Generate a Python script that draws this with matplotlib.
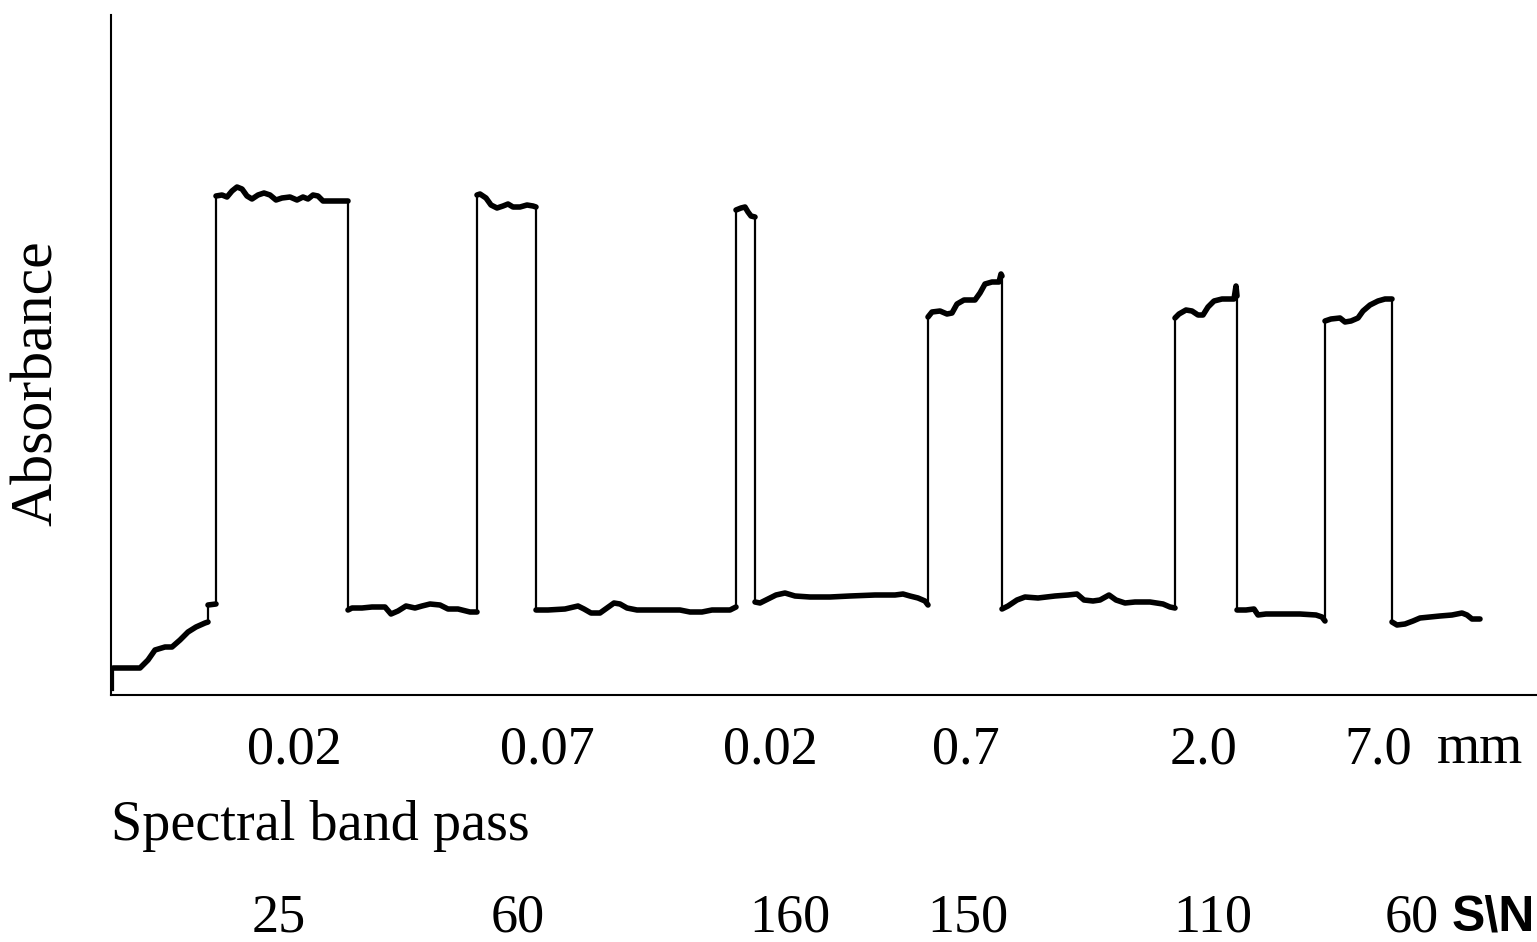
import numpy as np
import matplotlib
matplotlib.use("Agg")
import matplotlib.pyplot as plt

# trace: x position, absorbance (arbitrary units, 0 = x axis)
trace_x = [113, 113, 140, 148, 155, 165, 172, 180, 188, 196, 205, 208, 208, 216,
           216, 222, 227, 232, 237, 242, 247, 252, 258, 264, 270, 276, 282, 290, 297, 303, 308, 313, 318, 323, 340, 348,
           348, 352, 362, 372, 385, 391, 398, 406, 415, 422, 430, 440, 448, 458, 470, 477,
           477, 480, 486, 491, 497, 503, 508, 513, 520, 527, 533, 536,
           536, 548, 565, 578, 584, 591, 600, 607, 614, 620, 627, 637, 660, 680, 690, 702, 712, 730, 736,
           736, 741, 745, 748, 751, 755,
           755, 760, 768, 776, 785, 795, 810, 830, 850, 875, 895, 903, 910, 918, 925, 928,
           928, 932, 940, 947, 952, 957, 964, 975, 980, 985, 992, 999, 1001, 1002,
           1002, 1008, 1017, 1025, 1038, 1055, 1068, 1077, 1084, 1093, 1100, 1109, 1116, 1125, 1135, 1150, 1163, 1170, 1175,
           1175, 1179, 1186, 1192, 1198, 1203, 1208, 1214, 1222, 1234, 1236, 1237,
           1237, 1246, 1254, 1258, 1266, 1280, 1300, 1316, 1322, 1325,
           1325, 1331, 1340, 1345, 1351, 1358, 1363, 1370, 1378, 1385, 1392,
           1392, 1397, 1405, 1413, 1420, 1430, 1440, 1452, 1462, 1467, 1472, 1480]
trace_y = [5, 27, 27, 35, 45, 48, 48, 55, 63, 68, 72, 73, 90, 91,
           499, 500, 498, 504, 508, 506, 499, 496, 500, 502, 500, 495, 497, 498, 495, 498, 496, 500, 499, 494, 494, 494,
           85, 87, 87, 88, 88, 81, 84, 89, 87, 89, 91, 90, 86, 86, 83, 83,
           500, 501, 497, 490, 487, 489, 491, 488, 488, 490, 489, 488,
           85, 85, 86, 89, 86, 82, 82, 87, 92, 91, 87, 85, 85, 85, 83, 83, 85, 85, 88,
           485, 487, 488, 483, 479, 478,
           93, 92, 96, 100, 102, 99, 98, 98, 99, 100, 100, 101, 99, 97, 94, 90,
           378, 383, 384, 381, 382, 391, 395, 395, 402, 411, 413, 413, 421, 419,
           86, 89, 95, 98, 97, 99, 100, 101, 95, 94, 95, 100, 95, 92, 93, 93, 91, 88, 87,
           377, 381, 385, 384, 380, 380, 388, 394, 396, 396, 409, 399,
           85, 85, 86, 80, 81, 81, 81, 80, 78, 74,
           374, 376, 377, 373, 374, 377, 384, 390, 394, 396, 396,
           73, 70, 71, 74, 77, 78, 79, 80, 82, 80, 76, 76]

slit_widths = ["0.02", "0.07", "0.02", "0.7", "2.0", "7.0"]
width_pos = [294, 547, 770, 966, 1204, 1378]
sn_values = ["25", "60", "160", "150", "110", "60"]
sn_pos = [279, 518, 790, 968, 1213, 1412]

fig = plt.figure(figsize=(15.37, 9.42), dpi=100)
ax = fig.add_axes([111 / 1537, 247 / 942, 1426 / 1537, 680 / 942])
ax.set_xlim(111, 1537)
ax.set_ylim(0, 680)

x = np.array(trace_x, dtype=float)
y = np.array(trace_y, dtype=float)
# thin pen for the whole trace
ax.plot(x, y, color="black", lw=1.6, solid_joinstyle="round")
# thicker pen on the flat parts (break at the vertical jumps)
xs, ys = [x[0]], [y[0]]
for i in range(1, len(x)):
    if x[i] == x[i - 1]:
        xs.append(np.nan)
        ys.append(np.nan)
    xs.append(x[i])
    ys.append(y[i])
ax.plot(xs, ys, color="black", lw=4.0, solid_capstyle="round", solid_joinstyle="round")

for s in ["top", "right"]:
    ax.spines[s].set_visible(False)
for s in ["left", "bottom"]:
    ax.spines[s].set_linewidth(1.5)
ax.set_xticks([])
ax.set_yticks([])

serif = "Liberation Serif"
ax.text(38, 312, "Absorbance", rotation=90, ha="center", va="center",
        fontsize=43, family=serif, clip_on=False)
for lab, px in zip(slit_widths, width_pos):
    ax.text(px, -68, lab, ha="center", va="baseline", fontsize=39, family=serif, clip_on=False)
ax.text(1480, -68, "mm", ha="center", va="baseline", fontsize=40, family=serif, clip_on=False)
ax.text(111, -145, "Spectral band pass", ha="left", va="baseline", fontsize=40.5,
        family=serif, clip_on=False)
for lab, px in zip(sn_values, sn_pos):
    ax.text(px, -237, lab, ha="center", va="baseline", fontsize=39, family=serif, clip_on=False)
ax.text(1493, -236, "S\\N", ha="center", va="baseline", fontsize=36, family="Liberation Sans",
        fontweight="bold", clip_on=False)

fig.savefig("out.png", dpi=100)
